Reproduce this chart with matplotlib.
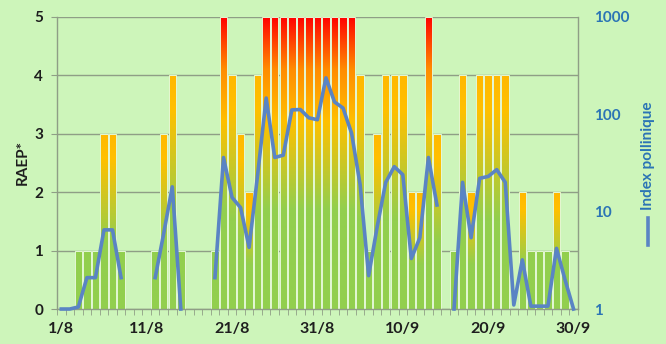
import numpy as np
import matplotlib
matplotlib.use("Agg")
import matplotlib.pyplot as plt
from matplotlib.colors import LinearSegmentedColormap
from matplotlib.lines import Line2D

# ---- data ----
dates = [f"{d}/8" for d in range(1, 32)] + [f"{d}/9" for d in range(1, 31)]
raep = [0, 0, 1, 1, 1, 3, 3, 1, 0, 0,
        0, 1, 3, 4, 1, 0, 0, 0, 1, 5,
        4, 3, 2, 4, 5, 5, 5, 5, 5, 5,
        5, 5, 5, 5, 5, 4, 1, 3, 4, 4,
        4, 2, 2, 5, 3, 0, 1, 4, 2, 4,
        4, 4, 4, 0, 2, 1, 1, 1, 2, 1,
        0]
nan = np.nan
pollen = [1, 1, 1.05, 2.1, 2.1, 6.5, 6.5, 2.1, nan, nan,
          nan, 2.1, 6.0, 18, 1, nan, nan, nan, 2.1, 36,
          14, 11, 4.3, 24, 147, 36, 38, 111, 112, 92,
          88, 237, 134, 116, 64, 19, 2.2, 7.0, 20, 29,
          24, 3.3, 5.4, 36, 11.7, nan, 1, 20, 5.4, 22,
          23, 27, 20, 1.1, 3.2, 1.07, 1.07, 1.07, 4.2, 2.0,
          1]
label_every = 10
left_ticks = [0, 1, 2, 3, 4, 5]
right_ticks = [1, 10, 100, 1000]

# ---- style ----
bg = "#cdf5ba"
green = "#92cf4e"
sep = "#e4f8d6"
blue_line = "#5a84c4"
blue_txt = "#2b74b5"
grid_c = "#8f9e86"
font = "Lato"

cmap_mid = LinearSegmentedColormap.from_list(
    "mid", [(0, green), (0.38, green), (0.85, "#ffc000"), (1.0, "#ffb800")])
cmap_top = LinearSegmentedColormap.from_list(
    "top", [(0, green), (0.34, green), (0.64, "#ffc000"), (0.82, "#ff8c00"), (1.0, "#ff0000")])
cmap_one = LinearSegmentedColormap.from_list("one", [green, green])

fig = plt.figure(figsize=(6.66, 3.44), dpi=100, facecolor=bg)
ax = fig.add_axes([0.0856, 0.1017, 0.782, 0.849])
ax.set_facecolor(bg)

x = np.arange(len(dates))
bars = ax.bar(x, raep, width=0.88, color="none", edgecolor=sep,
              linewidth=0.7, zorder=2.5)

grad = np.linspace(0, 1, 256).reshape(-1, 1)
for rect, h in zip(bars, raep):
    if h <= 0:
        continue
    x0 = rect.get_x()
    w = rect.get_width()
    if h == 1:
        cm = cmap_one
    elif h >= 5:
        cm = cmap_top
    else:
        cm = cmap_mid
    im = ax.imshow(grad, cmap=cm, origin="lower", aspect="auto",
                   extent=(x0, x0 + w, 0, h), zorder=2, interpolation="bilinear")
    im.set_clip_path(rect)

ax.set_xlim(-0.5, len(dates) - 0.5)
ax.set_ylim(0, 5)
ax.set_yticks(left_ticks)
ax.grid(axis="y", color=grid_c, linewidth=1.0)
ax.set_axisbelow(True)

ax.set_xticks(x[::label_every])
ax.set_xticklabels(dates[::label_every], fontsize=11.5, fontweight="bold",
                   color="#1e1e1e", family=font)
ax.set_xticks(np.arange(-0.5, len(dates), 1), minor=True)
ax.tick_params(axis="x", which="major", length=0, pad=9)
ax.tick_params(axis="x", which="minor", length=4, color=grid_c, direction="out")
ax.tick_params(axis="y", length=4, color=grid_c, pad=6)
for lab in ax.get_yticklabels():
    lab.set_fontweight("bold")
    lab.set_fontsize(11)
    lab.set_family(font)
    lab.set_color("#1e1e1e")

for s in ["top", "right"]:
    ax.spines[s].set_visible(False)
for s in ["left", "bottom"]:
    ax.spines[s].set_color(grid_c)
    ax.spines[s].set_linewidth(1.0)

ax.set_ylabel("RAEP*", fontsize=11, fontweight="bold", family=font,
              color="#1e1e1e", labelpad=3)

ax2 = ax.twinx()
ax2.set_yscale("log")
ax2.set_ylim(1, 1000)
ax2.plot(x, pollen, color=blue_line, linewidth=2.6, clip_on=False, zorder=3,
         solid_joinstyle="round")
ax2.set_yticks(right_ticks)
ax2.set_yticklabels([str(t) for t in right_ticks])
ax2.yaxis.set_minor_locator(matplotlib.ticker.NullLocator())
ax2.tick_params(axis="y", length=0, pad=12)
for lab in ax2.get_yticklabels():
    lab.set_fontweight("bold")
    lab.set_fontsize(11)
    lab.set_family(font)
    lab.set_color(blue_txt)
for s in ["top", "left", "bottom"]:
    ax2.spines[s].set_visible(False)
ax2.spines["right"].set_color(grid_c)
ax2.spines["right"].set_linewidth(1.0)

fig.text(0.973, 0.546, "Index pollinique", rotation=90, ha="center", va="center",
         fontsize=11, fontweight="bold", family=font, color=blue_txt)
fig.add_artist(Line2D([0.973, 0.973], [1 - 245 / 344, 1 - 218 / 344],
                      transform=fig.transFigure, color=blue_line, linewidth=2.6))

fig.savefig("out.png", dpi=100, facecolor=bg)
